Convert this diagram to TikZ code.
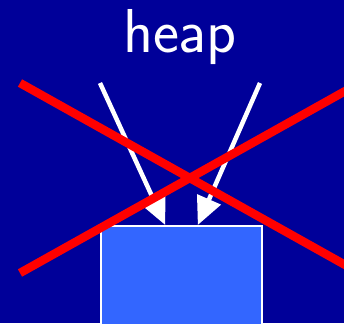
\documentclass[tikz,border=0pt]{standalone}
\usetikzlibrary{arrows.meta,calc}
\definecolor{slidebg}{RGB}{0,0,153}
\definecolor{heapblue}{RGB}{51,102,255}
\tikzset{
	heaparrow/.style={-{Triangle[length=28pt,width=25pt]}, white, line width=4.5pt},
	crossline/.style={red, line width=8.5pt},
}
\begin{document}
\begin{tikzpicture}[x=1pt,y=-1pt]
	\useasboundingbox (0,0) rectangle (344,323);
	\clip (0,0) rectangle (344,323);
	\fill[slidebg] (0,0) rectangle (344,323);

	\node[anchor=base, text=white, inner sep=0pt, font=\sffamily\fontsize{62}{70}\selectfont] (heap) at (180,53) {heap};
	\node[draw=white, line width=2pt, fill=heapblue, anchor=north west, minimum width=161pt, minimum height=110pt, inner sep=0pt] (block) at (100,225) {};

	\coordinate (srcL) at (100,83);
	\coordinate (srcR) at (260,83);
	\coordinate (tipL) at ($(block.north west)!0.4!(block.north east)$);
	\coordinate (tipR) at ($(block.north west)!0.6!(block.north east)$);

	\draw[heaparrow] (srcL) -- (tipL);
	\draw[heaparrow] (srcR) -- (tipR);

	\coordinate (crossA) at (20,83);
	\coordinate (crossB) at (356,271);
	\coordinate (crossC) at (20,273);
	\coordinate (crossD) at (356,85);
	\draw[crossline] (crossA) -- (crossB);
	\draw[crossline] (crossC) -- (crossD);
\end{tikzpicture}
\end{document}
